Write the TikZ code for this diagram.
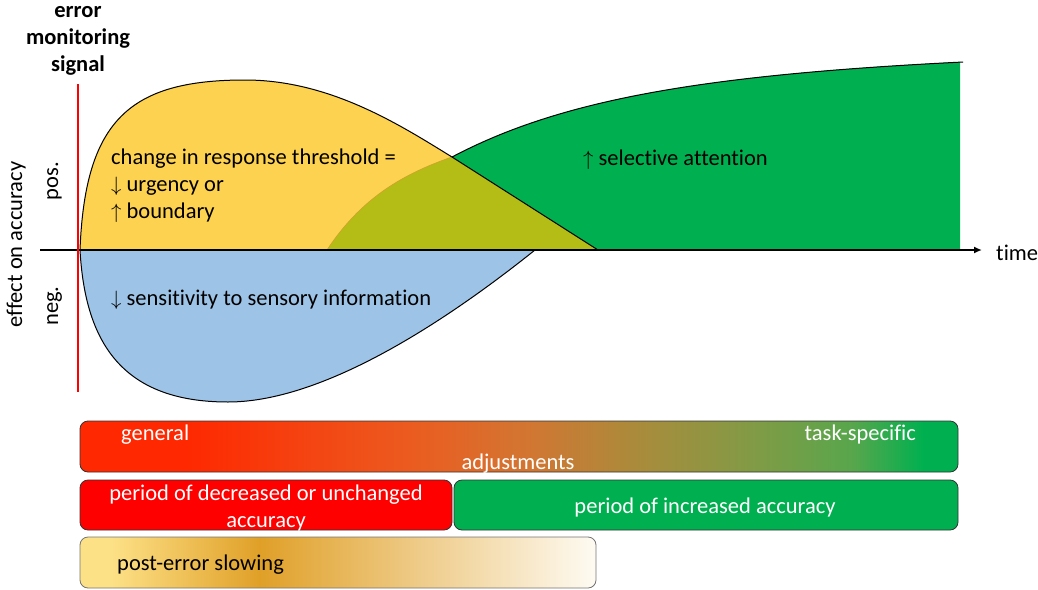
\documentclass[tikz,border=0pt]{standalone}
\usepackage{fontspec}
\setmainfont[Ligatures=NoCommon]{Carlito}
\usetikzlibrary{arrows.meta}

\definecolor{cYellow}{RGB}{253,210,80}
\definecolor{cGreen}{RGB}{0,176,80}
\definecolor{cOlive}{RGB}{180,188,22}
\definecolor{cOliveEdge}{RGB}{205,165,40}
\definecolor{cBlue}{RGB}{157,195,230}
\definecolor{cRed}{RGB}{255,0,0}
\definecolor{gRed}{RGB}{255,40,0}
\definecolor{gOrange}{RGB}{235,92,32}
\definecolor{gBrown}{RGB}{210,118,50}
\definecolor{gKhaki}{RGB}{168,140,60}
\definecolor{gOlive}{RGB}{128,155,70}
\definecolor{gLeaf}{RGB}{88,166,76}
\definecolor{pLight}{RGB}{253,225,135}
\definecolor{pGold}{RGB}{224,160,40}
\definecolor{pWhite}{RGB}{254,251,243}

% general -> task-specific colour ramp
\pgfdeclarehorizontalshading{adjshade}{100bp}{color(0bp)=(gRed); color(25bp)=(gRed); color(31bp)=(gRed); color(44bp)=(gOrange); color(50.5bp)=(gBrown); color(57bp)=(gKhaki); color(63.5bp)=(gOlive); color(69bp)=(gLeaf); color(73bp)=(cGreen); color(75bp)=(cGreen); color(100bp)=(cGreen)}
% post-error slowing ramp
\pgfdeclarehorizontalshading{slowshade}{100bp}{color(0bp)=(pLight); color(25bp)=(pLight); color(28bp)=(pLight); color(42.4bp)=(pGold); color(75bp)=(pWhite); color(100bp)=(pWhite)}

\tikzset{
  txt/.style={font=\fontsize{22.5}{27}\selectfont, inner sep=0pt},
  btxt/.style={txt, font=\fontsize{22.5}{27}\selectfont\bfseries},
  wtxt/.style={txt, text=white},
  bar/.style={draw=black!80, line width=0.8pt, rounded corners=8pt, inner sep=0pt},
  outline/.style={draw=black, line width=1pt},
}

\begin{document}
\begin{tikzpicture}[x=1pt,y=-1pt]
\useasboundingbox (0,0) rectangle (1038,589);

% --- effect curves ---
% selective attention (green)
\fill[cGreen] (327,250) .. controls (360,200) and (400,175) .. (452,157)
  .. controls (560,100) and (700,75) .. (960,62) -- (960,250) -- cycle;
% response threshold (yellow)
\fill[cYellow] (80,250) .. controls (85,120) and (130,80) .. (245,80)
  .. controls (330,80) and (400,125) .. (452,157) -- (598,250) -- cycle;
% overlap of the two
\begin{scope}
  \clip (80,250) .. controls (85,120) and (130,80) .. (245,80)
    .. controls (330,80) and (400,125) .. (452,157) -- (598,250) -- cycle;
  \fill[cOlive] (327,250) .. controls (360,200) and (400,175) .. (452,157)
    .. controls (560,100) and (700,75) .. (960,62) -- (960,250) -- cycle;
\end{scope}
\draw[cOliveEdge, line width=0.7pt] (327,250) .. controls (360,200) and (400,175) .. (452,157);
% sensory sensitivity (blue)
\fill[cBlue] (80,250) .. controls (85,340) and (120,402) .. (228,402)
  .. controls (330,402) and (460,310) .. (535,250) -- cycle;

% outlines
\draw[outline] (80,250) .. controls (85,120) and (130,80) .. (245,80)
  .. controls (330,80) and (400,125) .. (452,157) -- (598,250);
\draw[outline] (452,157) .. controls (560,100) and (700,75) .. (963,62);
\draw[outline] (80,250) .. controls (85,340) and (120,402) .. (228,402)
  .. controls (330,402) and (460,310) .. (535,250);

% --- axes ---
\coordinate (axL) at (40,250);
\coordinate (axR) at (982,250);
\coordinate (sigTop) at (78,84);
\coordinate (sigBot) at (78,392);
\draw[line width=1.6pt, -{Latex[length=8pt,width=7pt]}] (axL) -- (axR);
\draw[cRed, line width=1.4pt] (sigTop) -- (sigBot);

% --- labels ---
\node[btxt, anchor=base] (err1) at (78,17) {error};
\node[btxt, anchor=base] (err2) at (78,44) {monitoring};
\node[btxt, anchor=base] (err3) at (78,71) {signal};
\node[txt, anchor=base, rotate=90] (eff) at (22,244.5) {effect on accuracy};
\node[txt, anchor=base, rotate=90] (pos) at (58,181) {pos.};
\node[txt, anchor=base, rotate=90] (neg) at (58,306) {neg.};
\node[txt, anchor=base west] (time) at (996,260) {time};

\node[txt, anchor=base west] (thr1) at (111,164) {change in response threshold =};
\node[txt, anchor=base west] (thr2) at (111,191) {$\downarrow$ urgency or};
\node[txt, anchor=base west] (thr3) at (111,218) {$\uparrow$ boundary};
\node[txt, anchor=base west] (sel) at (583,165) {$\uparrow$ selective attention};
\node[txt, anchor=base west] (sens) at (111,305) {$\downarrow$ sensitivity to sensory information};

% --- bars ---
\node[bar, shading=adjshade, minimum width=878pt, minimum height=51pt] (adj) at (519,446.5) {};
\node[wtxt, anchor=base west] (gen) at (121,440) {general};
\node[wtxt, anchor=base east] (task) at (916,440) {task-specific};
\node[wtxt, anchor=base] (adjt) at (518,469) {adjustments};

\node[bar, fill=cRed, minimum width=372pt, minimum height=50pt] (dec) at (266,505) {};
\node[wtxt, anchor=base] (dec1) at (266,500) {period of decreased or unchanged};
\node[wtxt, anchor=base] (dec2) at (266,527) {accuracy};

\node[bar, fill=cGreen, minimum width=504pt, minimum height=50pt] (inc) at (706,505) {};
\node[wtxt, anchor=base] (inct) at (705,513) {period of increased accuracy};

\node[bar, draw=black!55, shading=slowshade, minimum width=516pt, minimum height=51pt] (pes) at (338,562.5) {};
\node[txt, anchor=base west] (pest) at (117,570) {post-error slowing};
\end{tikzpicture}
\end{document}
